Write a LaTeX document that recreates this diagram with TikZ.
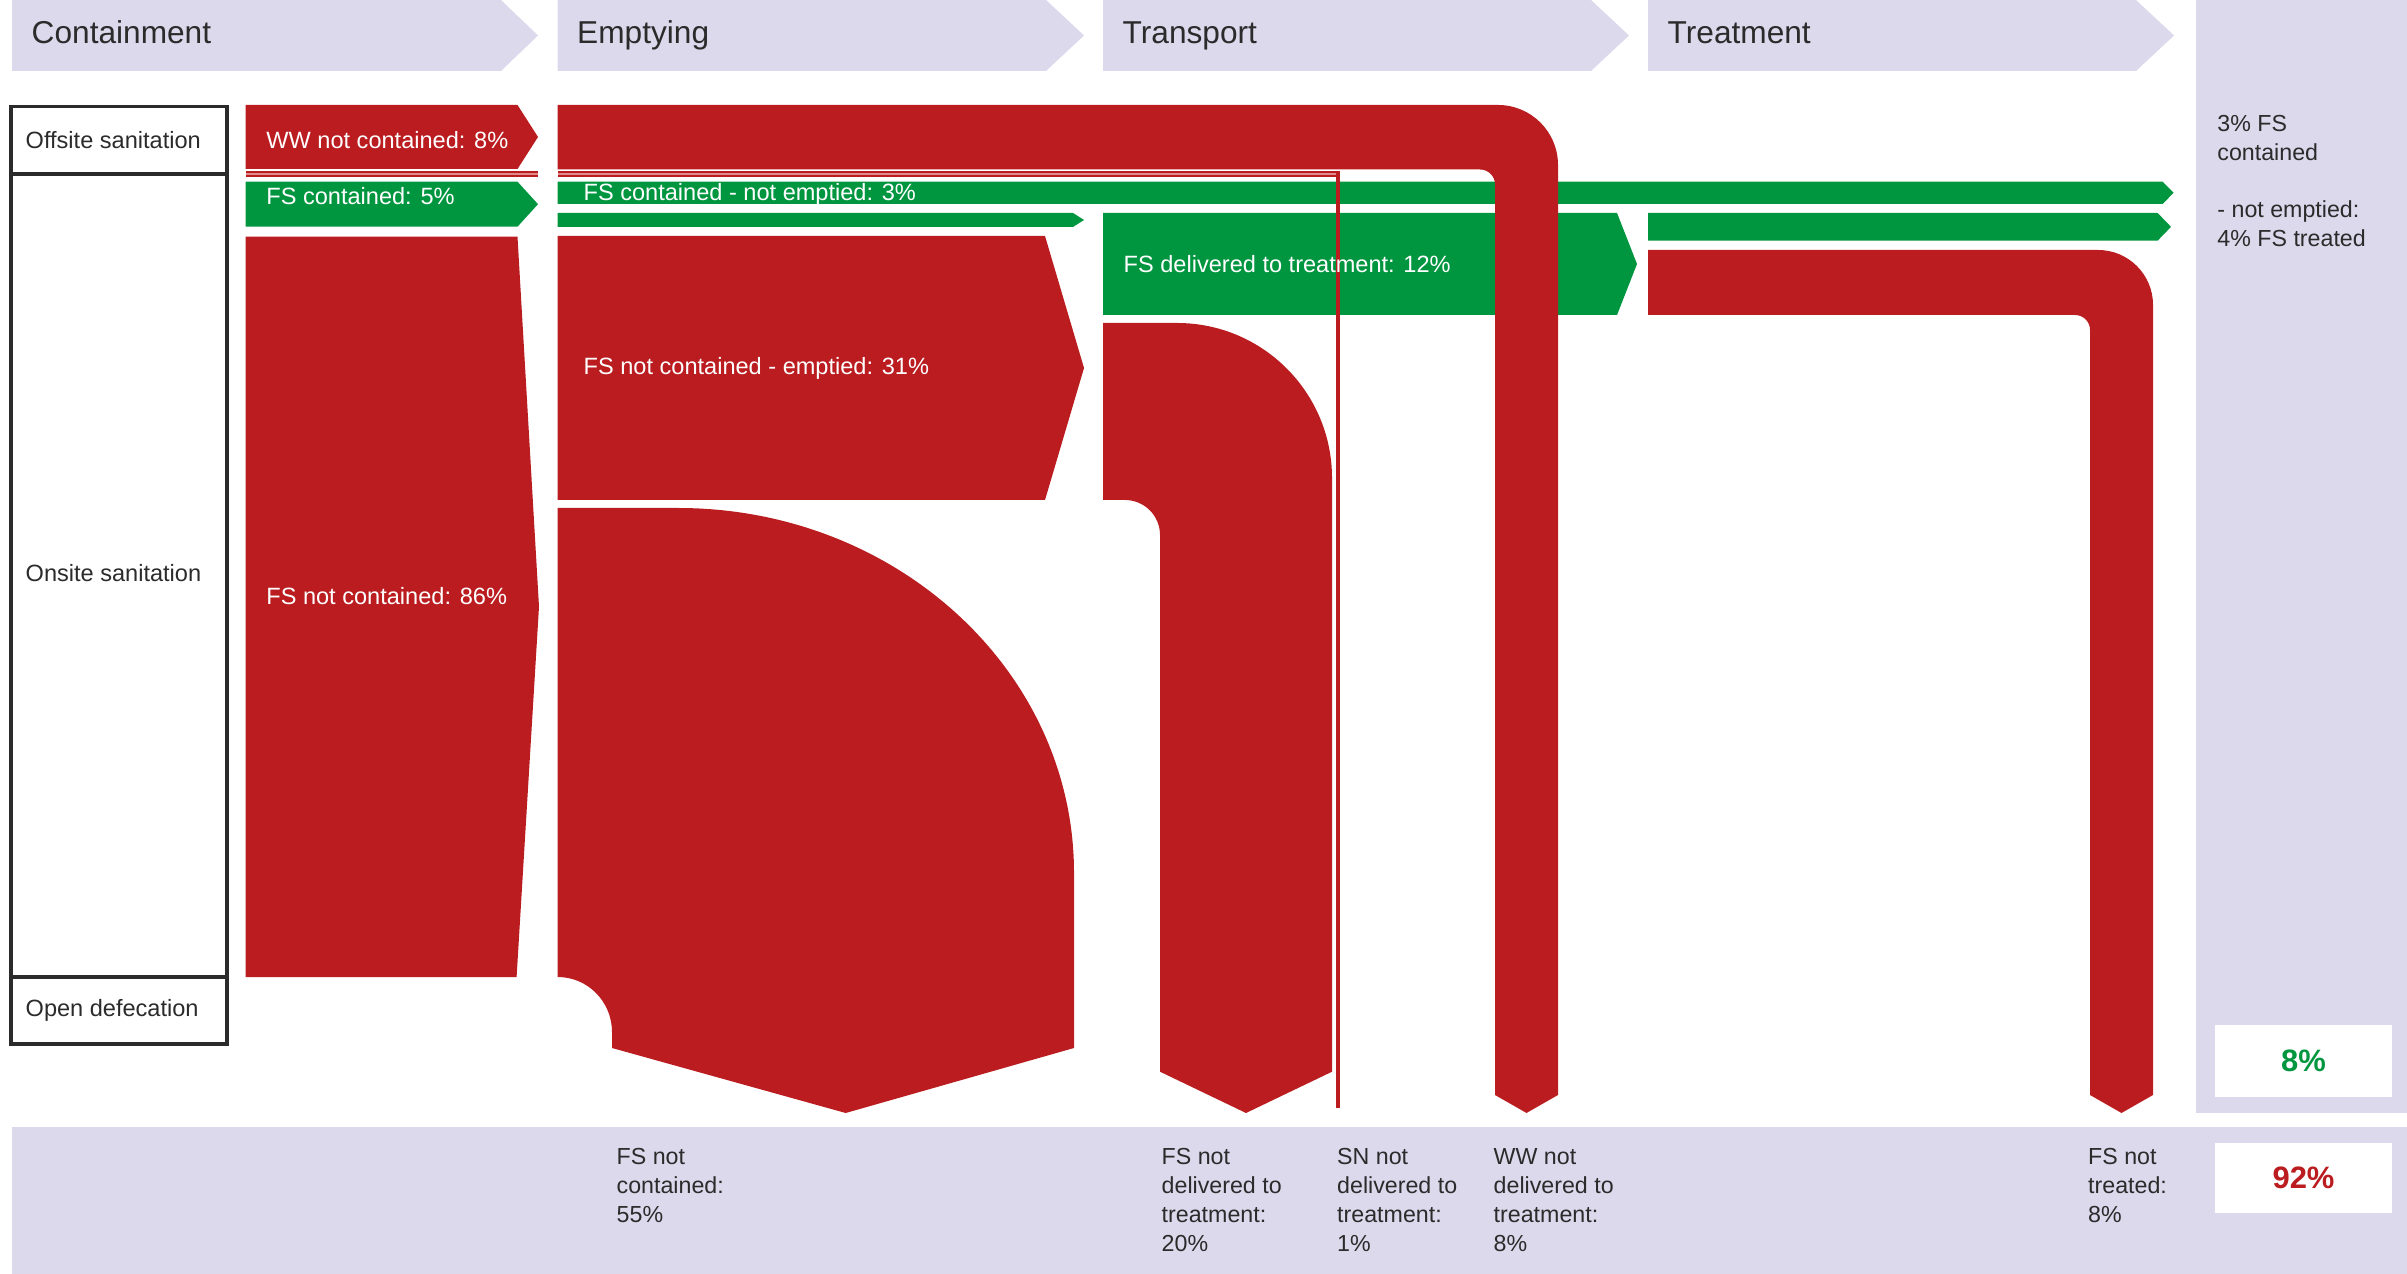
\documentclass[tikz,border=0pt]{standalone}
\usepackage{fontspec}
\setmainfont{Liberation Sans}
\definecolor{fred}{HTML}{BA1C1F}
\definecolor{fgreen}{HTML}{00963F}
\definecolor{lav}{HTML}{DCD9EC}
\definecolor{ink}{HTML}{2B2B2B}
\definecolor{pale}{HTML}{E08A8A}
\begin{document}
\begin{tikzpicture}[x=0.01cm,y=-0.01cm,
  hdrfill/.style={fill=lav},
  redflow/.style={fill=fred},
  greenflow/.style={fill=fgreen},
  boxline/.style={draw=ink,line width=0.9pt},
  flowlbl/.style={font=\fontsize{6.7pt}{8.25pt}\selectfont,text=white,inner sep=0pt,anchor=base west},
  darklbl/.style={font=\fontsize{6.7pt}{8.25pt}\selectfont,text=ink,inner sep=0pt,anchor=base west},
  multilbl/.style={font=\fontsize{6.6pt}{8.25pt}\selectfont,text=ink,inner sep=0pt,anchor=north west,align=left},
  hdrlbl/.style={font=\fontsize{9pt}{11pt}\selectfont,text=ink,inner sep=0pt,anchor=base west},
  pctlbl/.style={font=\bfseries\fontsize{8.8pt}{10pt}\selectfont,inner sep=0pt}]
\useasboundingbox (0,0) rectangle (2407,1274);
% ---- header chevrons ----
\fill[hdrfill] (12,0) -- (501,0) -- (538,35.5) -- (501,71) -- (12,71) -- cycle;
\fill[hdrfill] (557.7,0) -- (1046,0) -- (1084,35.5) -- (1046,71) -- (557.7,71) -- cycle;
\fill[hdrfill] (1103,0) -- (1591,0) -- (1629,35.5) -- (1591,71) -- (1103,71) -- cycle;
\fill[hdrfill] (1648,0) -- (2136,0) -- (2174,35.5) -- (2136,71) -- (1648,71) -- cycle;
% ---- right column and bottom band ----
\fill[hdrfill] (2196,0) rectangle (2407,1113);
\fill[hdrfill] (11.5,1126.7) rectangle (2407,1274);
\fill[white] (2215,1025) rectangle (2392,1096.7);
\fill[white] (2215,1143.3) rectangle (2392,1213.3);
% ---- left boxes ----
\draw[boxline] (11,106.7) rectangle (227,1044);
\draw[boxline] (11,174) -- (227,174);
\draw[boxline] (11,977) -- (227,977);
% ---- containment flows ----
\fill[redflow] (245.7,105) -- (517.5,105) -- (538,137) -- (517.5,169) -- (245.7,169) -- cycle;
\fill[greenflow] (245.7,181.7) -- (517.5,181.7) -- (538,204.2) -- (517.5,226.7) -- (245.7,226.7) -- cycle;
\fill[redflow] (245.7,236.7) -- (517.5,236.7) -- (539,606.7) -- (516.6,977) -- (245.7,977) -- cycle;
% ---- emptying flows ----
\fill[greenflow] (557.7,181.7) -- (2162.5,181.7) -- (2173.6,192.85) -- (2162.5,204) -- (557.7,204) -- cycle;
\fill[greenflow] (557.7,213) -- (1073,213) -- (1084,220) -- (1073,227) -- (557.7,227) -- cycle;
\fill[redflow] (557.7,236) -- (1045,236) -- (1084,368) -- (1045,500) -- (557.7,500) -- cycle;
\fill[redflow] (557.7,508) -- (678,508) .. controls (896.7,508) and (1074,671.4) .. (1074,873)
  -- (1074,1048) -- (845.7,1113) -- (612,1048) -- (612,1032)
  .. controls (612,1001.6) and (587.7,977) .. (557.7,977) -- cycle;
% ---- transport flows ----
\fill[greenflow] (1103,213) -- (1617,213) -- (1637,264) -- (1617,315) -- (1103,315) -- cycle;
\fill[redflow] (1103,323) -- (1177,323) .. controls (1262.6,323) and (1332,392.4) .. (1332,478)
  -- (1332,1071.7) -- (1246,1113) -- (1160,1071.7) -- (1160,535)
  .. controls (1160,515.7) and (1144.3,500) .. (1125,500) -- (1103,500) -- cycle;
% ---- treatment flows ----
\fill[greenflow] (1648,213) -- (2157.6,213) -- (2171,226.85) -- (2157.6,240.7) -- (1648,240.7) -- cycle;
\fill[redflow] (1648,250) -- (2098,250) .. controls (2128.4,250) and (2153,274.6) .. (2153,305)
  -- (2153,1095) -- (2121.5,1113) -- (2090,1095) -- (2090,330)
  .. controls (2090,321.7) and (2083.3,315) .. (2075,315) -- (1648,315) -- cycle;
% ---- wastewater band ----
\fill[redflow] (557.7,105) -- (1498,105) .. controls (1531.1,105) and (1558,131.9) .. (1558,165)
  -- (1558,1095) -- (1526.5,1113) -- (1495,1095) -- (1495,184.5)
  .. controls (1495,176.2) and (1488.3,169.5) .. (1480,169.5) -- (557.7,169.5) -- cycle;
% ---- thin SN line ----
\fill[redflow] (245.7,171.5) rectangle (538,177);
\fill[pale] (245.7,173.5) rectangle (538,175.2);
\fill[redflow] (557.7,171.5) rectangle (1339.5,177);
\fill[pale] (557.7,173.5) rectangle (1335.5,175.2);
\fill[redflow] (1335.5,171.5) rectangle (1339.5,1108);
% ---- header labels ----
\node[hdrlbl] (hcont) at (31,44) {Containment};
\node[hdrlbl] (hempt) at (576.5,44) {Emptying};
\node[hdrlbl] (htran) at (1122,44) {Transport};
\node[hdrlbl] (htreat) at (1667,44) {Treatment};
% ---- left labels ----
\node[darklbl] (loff) at (25,149) {Offsite sanitation};
\node[darklbl] (lon) at (25,582) {Onsite sanitation};
\node[darklbl] (lod) at (25,1016) {Open defecation};
% ---- flow labels ----
\node[flowlbl] (fww) at (265.7,149) {WW not contained: 8\%};
\node[flowlbl] (ffs) at (265.7,205) {FS contained: 5\%};
\node[flowlbl] (fnc) at (265.7,605) {FS not contained: 86\%};
\node[flowlbl] (fne) at (583,201) {FS contained - not emptied: 3\%};
\node[flowlbl] (fem) at (583,375) {FS not contained - emptied: 31\%};
\node[flowlbl] (fdel) at (1123,273) {FS delivered to treatment: 12\%};
% ---- bottom labels ----
\node[multilbl] (b55) at (616,1148) {FS not\\contained:\\55\%};
\node[multilbl] (b20) at (1161,1148) {FS not\\delivered to\\treatment:\\20\%};
\node[multilbl] (b1) at (1336.5,1148) {SN not\\delivered to\\treatment:\\1\%};
\node[multilbl] (b8w) at (1493,1148) {WW not\\delivered to\\treatment:\\8\%};
\node[multilbl] (b8t) at (2087.5,1148) {FS not\\treated:\\8\%};
% ---- right column labels ----
\node[multilbl] (r1) at (2216.7,115) {3\% FS\\contained};
\node[multilbl] (r2) at (2216.7,200) {- not emptied:\\4\% FS treated};
\node[pctlbl,text=fgreen] (p8) at (2303.5,1061) {8\%};
\node[pctlbl,text=fred] (p92) at (2303.5,1178) {92\%};
\end{tikzpicture}
\end{document}
